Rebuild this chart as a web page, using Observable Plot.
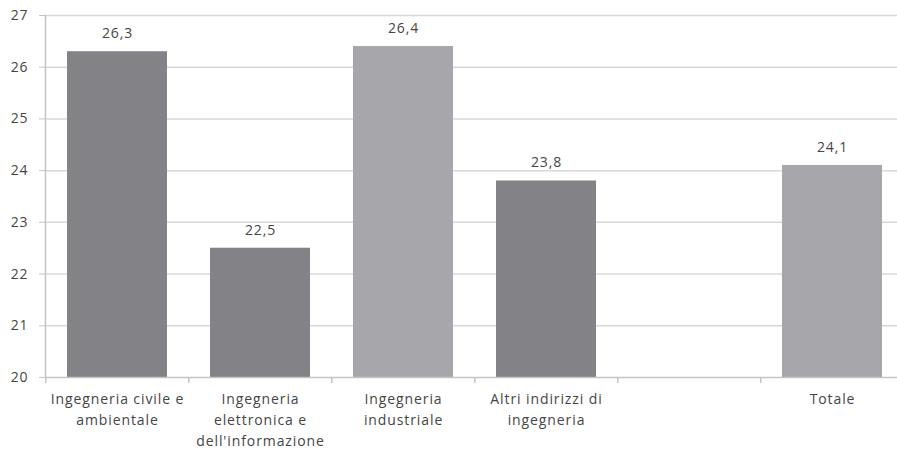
<!DOCTYPE html>
<html>
<head>
<meta charset="utf-8">
<script src="https://cdn.jsdelivr.net/npm/d3@7"></script>
<script src="https://cdn.jsdelivr.net/npm/@observablehq/plot@0.6"></script>
<style>
  html, body { margin: 0; padding: 0; background: #fff; }
  svg { display: block; }
</style>
</head>
<body>
<div id="chart"></div>
<script>
const categories = [
  "Ingegneria civile e\nambientale",
  "Ingegneria\nelettronica e\ndell'informazione",
  "Ingegneria\nindustriale",
  "Altri indirizzi di\ningegneria",
  "",
  "Totale"
];
const values = [26.3, 22.5, 26.4, 23.8, null, 24.1];
const shades = ["dark", "dark", "light", "dark", null, "light"];
const yTicks = [20, 21, 22, 23, 24, 25, 26, 27];

const data = categories.map((c, i) => ({cat: c, key: "k" + i, value: values[i], shade: shades[i]}));
const bars = data.filter(d => d.value != null);

const W = 897, H = 452;
const mL = 45, mR = -8, mT = 15, mB = 75;
const step = (W - mR - mL) / categories.length;
const font = "'Open Sans', Lato, sans-serif";
const fmt = v => v.toFixed(1).replace(".", ",");

const chart = Plot.plot({
  width: W,
  height: H,
  marginLeft: mL,
  marginRight: mR,
  marginTop: mT,
  marginBottom: mB,
  style: {fontFamily: font, fontSize: "14px", color: "#454545", background: "#fff", letterSpacing: "0.9px"},
  x: {domain: data.map(d => d.key), paddingInner: 0.3, paddingOuter: 0.15, axis: null, label: null},
  y: {domain: [20, 27], axis: null, label: null},
  color: {domain: ["dark", "light"], range: ["#838387", "#a7a7ab"]},
  marks: [
    Plot.gridY(yTicks.filter(t => t > 20), {stroke: "#d8d8d8", strokeOpacity: 1, strokeWidth: 1.5}),
    Plot.barY(bars, {x: "key", y1: 20, y2: "value", fill: "shade"}),
    Plot.ruleY([20], {stroke: "#c4c4c4", strokeWidth: 1.5}),
    Plot.frame({anchor: "left", stroke: "#c4c4c4", strokeWidth: 1.5}),
    Plot.axisY(yTicks, {anchor: "left", tickSize: 6, tickPadding: 11, stroke: "#c4c4c4", fill: "#454545", fontSize: 14, tickFormat: d => String(d), label: null}),
    Plot.axisX(data.map(d => d.key), {anchor: "bottom", tickSize: 6, text: null, dx: -step / 2, stroke: "#c4c4c4", strokeWidth: 1.5, label: null}),
    Plot.text(data, {x: "key", y: 20, text: "cat", lineAnchor: "top", dy: 12, lineHeight: 1.5, fill: "#454545", fontSize: 14}),
    Plot.text(bars, {x: "key", y: "value", text: d => fmt(d.value), lineAnchor: "middle", dy: -18, fill: "#454545", fontSize: 14})
  ]
});
document.getElementById("chart").appendChild(chart);
</script>
</body>
</html>
